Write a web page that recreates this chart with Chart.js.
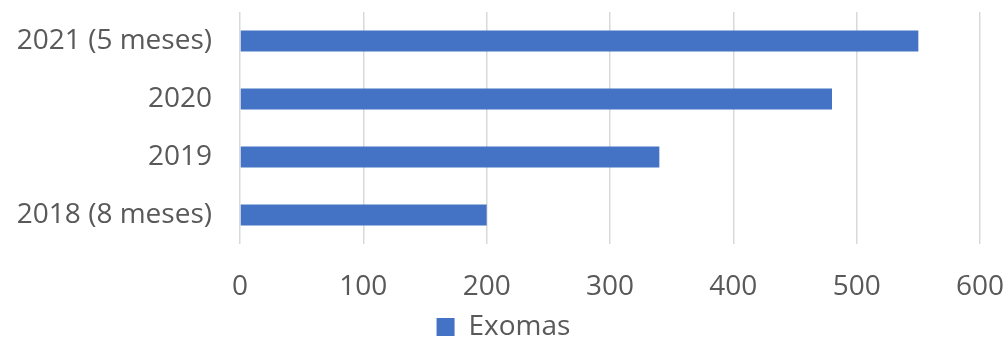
<!DOCTYPE html>
<html>
<head>
<meta charset="utf-8">
<script src="https://cdn.jsdelivr.net/npm/chart.js@4"></script>
<style>
  html, body { margin: 0; padding: 0; background: #fff; }
  #wrap { width: 1007px; height: 338px; }
</style>
</head>
<body>
<div id="wrap"><canvas id="chart" width="1007" height="338"></canvas></div>
<script>
// Chart data
const categories = ['2021 (5 meses)', '2020', '2019', '2018 (8 meses)'];
const exomas = [550, 480, 340, 200];
const seriesLabel = 'Exomas';

const textColor = '#595959';
const fontFamily = '"Open Sans", sans-serif';

new Chart(document.getElementById('chart'), {
  type: 'bar',
  data: {
    labels: categories,
    datasets: [{
      label: seriesLabel,
      data: exomas,
      backgroundColor: '#4472C4',
      borderWidth: 0,
      categoryPercentage: 1,
      barPercentage: 0.36
    }]
  },
  options: {
    indexAxis: 'y',
    responsive: false,
    animation: false,
    layout: { padding: { top: 12, right: 0, left: 0, bottom: -13 } },
    plugins: {
      tooltip: { enabled: false },
      legend: {
        position: 'bottom',
        labels: {
          color: textColor,
          font: { family: fontFamily, size: 28 },
          boxWidth: 18,
          boxHeight: 18,
          padding: 0
        }
      }
    },
    scales: {
      x: {
        min: 0,
        max: 600,
        ticks: {
          stepSize: 100,
          color: textColor,
          font: { family: fontFamily, size: 28 },
          padding: 26
        },
        grid: { color: '#d9d9d9', lineWidth: 1.5, drawTicks: false },
        border: { display: false },
        afterFit: function(scale) {
          scale.height = 69;
          scale.paddingLeft = 0;
          scale.paddingRight = 27;
        }
      },
      y: {
        ticks: {
          color: textColor,
          font: { family: fontFamily, size: 28 },
          padding: 28
        },
        grid: { display: false, drawTicks: false },
        border: { display: false },
        afterFit: function(scale) {
          scale.width = 240;
          scale.paddingTop = 0;
          scale.paddingBottom = 0;
        }
      }
    }
  }
});
</script>
</body>
</html>
